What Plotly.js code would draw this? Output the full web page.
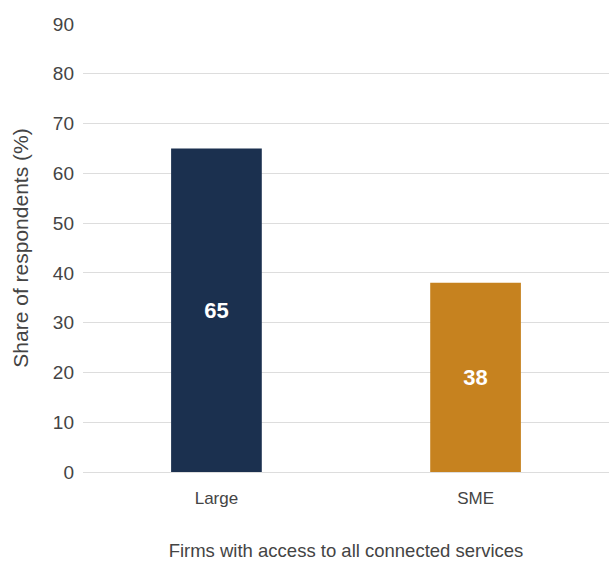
<!DOCTYPE html>
<html>
<head>
<meta charset="utf-8">
<script src="https://cdn.plot.ly/plotly-3.0.1.min.js"></script>
<style>html,body{margin:0;padding:0;background:#fff;}#chart{width:609px;height:561px;}</style>
</head>
<body>
<div id="chart"></div>
<script>
var categories = ["Large", "SME"];
var values = [65, 38];
var barColors = ["#1B304F", "#C6821F"];
var yTicks = [0, 10, 20, 30, 40, 50, 60, 70, 80, 90];

var trace = {
  type: "bar",
  x: categories,
  y: values,
  text: values.map(String),
  textposition: "inside",
  insidetextanchor: "middle",
  textfont: {family: "Liberation Sans, Arial, sans-serif", size: 22, color: "#ffffff", weight: "bold"},
  marker: {color: barColors},
  width: 0.35,
  hoverinfo: "none",
  cliponaxis: false
};

var layout = {
  width: 609,
  height: 561,
  margin: {l: 83, r: 0, t: 24, b: 89, pad: 0},
  paper_bgcolor: "#ffffff",
  plot_bgcolor: "#ffffff",
  showlegend: false,
  font: {family: "Liberation Sans, Arial, sans-serif", color: "#444444"},
  xaxis: {
    range: [-0.515, 1.515],
    showgrid: false,
    zeroline: false,
    showline: false,
    ticks: "",
    tickfont: {size: 17, color: "#444444"},
    ticklabelstandoff: 14,
    title: {text: "Firms with access to all connected services", font: {size: 18.5, color: "#444444"}, standoff: 38}
  },
  yaxis: {
    range: [0, 90],
    tickvals: yTicks,
    ticktext: yTicks.map(String),
    showgrid: true,
    gridcolor: "#dddddd",
    gridwidth: 1,
    zeroline: true,
    zerolinecolor: "#dddddd",
    zerolinewidth: 1,
    showline: false,
    ticks: "",
    tickfont: {size: 19, color: "#444444"},
    ticklabelstandoff: 8,
    title: {text: "Share of respondents (%)", font: {size: 21, color: "#444444"}, standoff: 18}
  }
};

Plotly.newPlot("chart", [trace], layout, {displayModeBar: false, staticPlot: true});
</script>
</body>
</html>
